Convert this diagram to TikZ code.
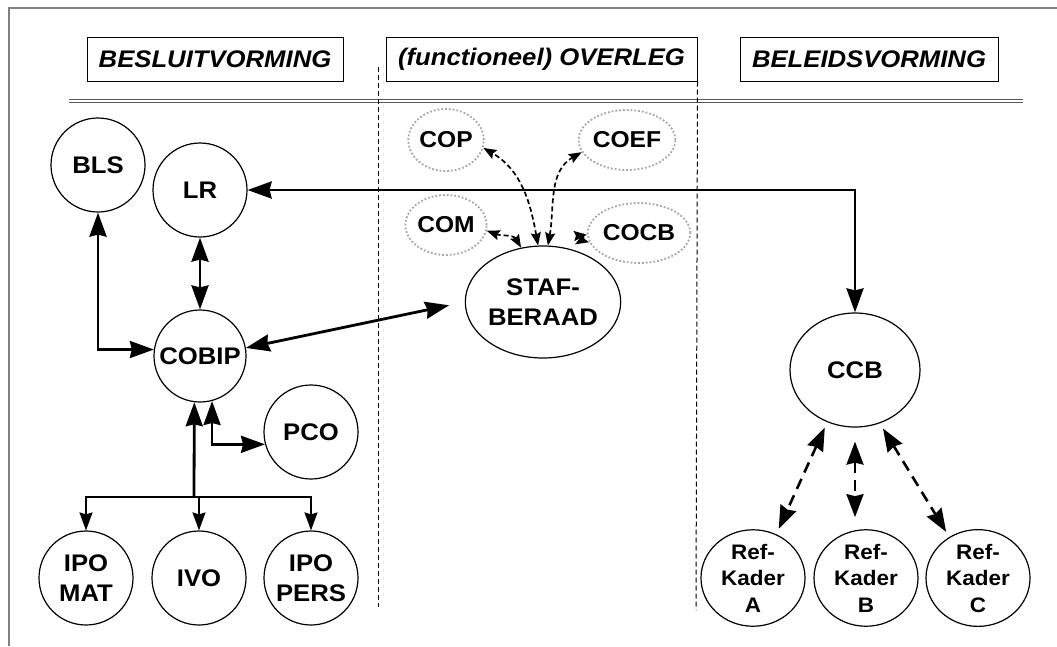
\documentclass[tikz,border=0pt]{standalone}
\usepackage{fontspec}
\setmainfont[FakeStretch=1.07]{Liberation Sans}
\usetikzlibrary{arrows.meta,shapes.geometric,calc}
\begin{document}
\begin{tikzpicture}[x=1pt,y=-1pt,
  nfont/.style={font=\bfseries\fontsize{24}{30}\selectfont},
  circ/.style={circle,draw,line width=1.2pt,minimum size=94pt,inner sep=0pt,align=center,nfont},
  ell/.style={ellipse,draw,line width=1.2pt,inner sep=0pt,align=center,nfont},
  refk/.style={ellipse,draw,line width=1.2pt,inner sep=0pt,align=center,minimum width=104pt,minimum height=86pt,font=\bfseries\fontsize{21}{26.5}\selectfont},
  dotc/.style={ellipse,draw=gray!70,dotted,line width=1.8pt,inner sep=0pt,font=\bfseries\fontsize{23}{26}\selectfont},
  hdr/.style={draw,line width=1pt,minimum height=44pt,inner sep=0pt,font=\bfseries\itshape\fontsize{24}{28}\selectfont},
  big/.style={line width=2.8pt,>={Stealth[length=24pt,width=17pt,inset=2pt]}},
  med/.style={line width=1.8pt,>={Stealth[length=18pt,width=13pt,inset=2pt]}},
  sdash/.style={line width=1.7pt,dash pattern=on 5pt off 3pt,>={Stealth[length=13pt,width=10pt,inset=2pt]}},
  bdash/.style={line width=2.6pt,dash pattern=on 11pt off 7pt,>={Stealth[length=23pt,width=17pt,inset=2pt]}},
  sep/.style={line width=1pt,dash pattern=on 5pt off 3pt}
]
\useasboundingbox (0,0) rectangle (1057,646);
% frame
\draw[gray,line width=1.5pt] (9,646) -- (9,8) -- (1057,8);
% headers
\node[hdr,minimum width=256pt] (h1) at (215,59) {BESLUITVORMING};
\node[hdr,minimum width=311pt] (h2) at (541.5,59) {(functioneel) OVERLEG};
\node[hdr,minimum width=258pt] (h3) at (869,59) {BELEIDSVORMING};
\draw[gray!70!black,line width=1.5pt,double=white,double distance=1.5pt] (69,101) -- (1023,101);
% separators
\draw[sep] (378,67) -- (378,607);
\draw[sep] (h2.south east) -- (696,610);
% nodes
\node[circ] (bls) at (98,165) {BLS};
\node[circ] (lr) at (200,190) {LR};
\node[circ,minimum size=92pt] (cobip) at (200,356) {COBIP};
\node[circ] (pco) at (311,432) {PCO};
\node[circ] (ipomat) at (86,578) {IPO\\MAT};
\node[circ] (ivo) at (199,578) {IVO};
\node[circ] (ipopers) at (311,578) {IPO\\PERS};
\node[ell,minimum width=132pt,minimum height=112pt] (staf) at (543,302) {STAF-\\BERAAD};
\node[dotc,minimum width=68pt,minimum height=62pt] (cop) at (446,140) {COP};
\node[dotc,minimum width=67pt,minimum height=60pt] (coef) at (627,140) {COEF};
\node[dotc,minimum width=68pt,minimum height=60pt] (com) at (446,225) {COM};
\node[dotc,minimum width=78pt,minimum height=60pt] (cocb) at (639,233) {COCB};
\node[ell,minimum width=130pt,minimum height=114pt] (ccb) at (855,370) {CCB};
\node[refk] (refa) at (753,578) {Ref-\\Kader\\A};
\node[refk] (refb) at (866,578) {Ref-\\Kader\\B};
\node[refk] (refc) at (978,578) {Ref-\\Kader\\C};
% connectors
\draw[big,<->] (bls.south) |- (cobip.172);
\draw[big,<->] (lr.south) -- (cobip.north);
\draw[big,<->] (lr.east) -| (ccb.north);
\draw[big,<->,shorten >=16pt] (cobip.10) -- (staf.west);
\draw[big,<->] (cobip.-75) |- (pco.195);
\coordinate (j) at (194,497);
\draw[big,->] (j) -- (cobip.-97.5);
\draw[med,->] (j) -| (ipomat.north);
\draw[med,->] (j) -| (ipopers.north);
\draw[med,->] (ivo.north |- j) -- (ivo.north);
% small dashed
\draw[sdash,<->] (staf.95) to[out=100,in=-30] (cop.-12);
\draw[sdash,<->] (staf.85) to[out=80,in=210] (coef.195);
\draw[sdash,<->] (staf.112) to[out=120,in=-20] (com.-8);
\draw[sdash,<->,shorten <=8pt] (staf.65) to[out=30,in=185] (cocb.182);
% CCB dashed
\draw[bdash,<->,shorten <=6pt,shorten >=6pt] (ccb.-118) -- (refa.62);
\draw[bdash,<->,shorten <=14pt,shorten >=12pt] (ccb.south) -- (ccb.south |- refb.north);
\draw[bdash,<->,shorten <=6pt,shorten >=6pt] (ccb.-65) -- (refc.125);
\end{tikzpicture}
\end{document}
